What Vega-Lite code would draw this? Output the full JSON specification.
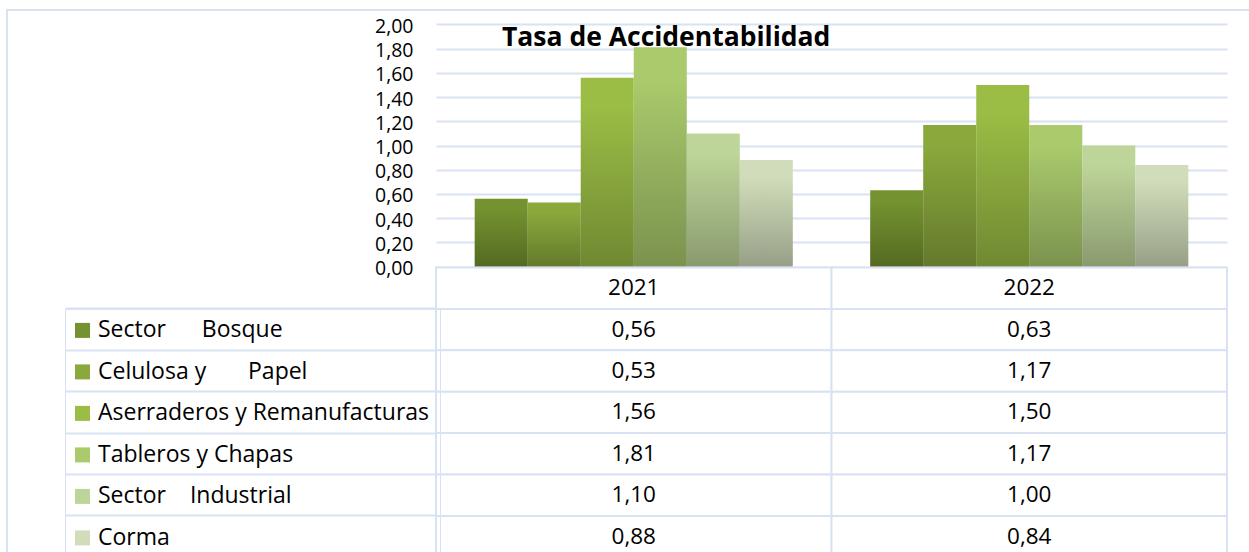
{
  "$schema": "https://vega.github.io/schema/vega-lite/v6.json",
  "width": 1245,
  "height": 546,
  "autosize": "none",
  "padding": {"left": 7, "top": 10, "right": 0, "bottom": 0},
  "data": {
    "values": [
      {"year": "2021", "series": "Sector Bosque", "value": 0.56},
      {"year": "2021", "series": "Celulosa y Papel", "value": 0.53},
      {"year": "2021", "series": "Aserraderos y Remanufacturas", "value": 1.56},
      {"year": "2021", "series": "Tableros y Chapas", "value": 1.81},
      {"year": "2021", "series": "Sector Industrial", "value": 1.10},
      {"year": "2021", "series": "Corma", "value": 0.88},
      {"year": "2022", "series": "Sector Bosque", "value": 0.63},
      {"year": "2022", "series": "Celulosa y Papel", "value": 1.17},
      {"year": "2022", "series": "Aserraderos y Remanufacturas", "value": 1.50},
      {"year": "2022", "series": "Tableros y Chapas", "value": 1.17},
      {"year": "2022", "series": "Sector Industrial", "value": 1.00},
      {"year": "2022", "series": "Corma", "value": 0.84}
    ]
  },
  "title": {
    "text": "Tasa de Accidentabilidad",
    "anchor": "start",
    "frame": "group",
    "offset": -37.5,
    "dx": 495,
    "dy": 25,
    "baseline": "alphabetic",
    "font": "Open Sans",
    "fontSize": 26.5,
    "fontWeight": "bold",
    "color": "#000000"
  },
  "layer": [
    {
      "layer": [
        {
          "mark": {"type": "bar"},
          "encoding": {
            "x": {"field": "year", "type": "nominal", "axis": null, "scale": {"range": [429, 1220], "paddingInner": 0, "paddingOuter": 0}},
            "xOffset": {"field": "series", "type": "nominal", "scale": {"domain": ["Sector Bosque", "Celulosa y Papel", "Aserraderos y Remanufacturas", "Tableros y Chapas", "Sector Industrial", "Corma"], "paddingInner": 0, "paddingOuter": 0.73}},
            "y": {"field": "value", "type": "quantitative", "scale": {"domain": [0, 2], "range": [256.7, 14.3], "nice": false, "zero": true},
              "axis": {"orient": "left", "offset": -429, "values": [0, 0.2, 0.4, 0.6, 0.8, 1.0, 1.2, 1.4, 1.6, 1.8, 2.0], "format": ".2f", "domain": false, "ticks": false, "tickSize": 0, "labelPadding": 23, "labelFont": "Open Sans", "labelFontSize": 19.5, "labelColor": "#000000", "labelOffset": 2, "grid": true, "gridColor": "#d9e2f3", "gridWidth": 2, "title": null}},
            "color": {"field": "series", "type": "nominal",
              "scale": {"domain": ["Sector Bosque", "Celulosa y Papel", "Aserraderos y Remanufacturas", "Tableros y Chapas", "Sector Industrial", "Corma"],
                        "range": ["#74922f", "#8aa83c", "#9bbd45", "#aaca6c", "#bed599", "#d1ddba"]},
              "legend": {
                "orient": "none", "legendX": 58, "legendY": 298.9, "title": null,
                "symbolType": "square", "symbolSize": 225, "symbolStrokeWidth": 0, "symbolOpacity": 1, "symbolOffset": -4,
                "labelFont": "Open Sans", "labelFontSize": 23, "labelColor": "#000000", "labelOffset": 4, "labelLimit": 600,
                "rowPadding": 17.5, "padding": 10, "strokeColor": "#d9e2f3",
                "labelExpr": "datum.label == 'Sector Bosque' ? 'Sector\u00a0\u00a0\u00a0\u00a0\u00a0\u00a0Bosque' : datum.label == 'Celulosa y Papel' ? 'Celulosa y\u00a0\u00a0\u00a0\u00a0\u00a0\u00a0\u00a0Papel' : datum.label == 'Sector Industrial' ? 'Sector\u00a0\u00a0\u00a0\u00a0Industrial' : datum.label"
              }
            }
          }
        },
        {
          "mark": {"type": "bar", "fill": {"gradient": "linear", "x1": 0, "y1": 0, "x2": 0, "y2": 1,
            "stops": [{"offset": 0, "color": "rgba(0,0,0,0)"}, {"offset": 0.15, "color": "rgba(0,0,0,0)"}, {"offset": 1, "color": "rgba(0,0,0,0.28)"}]}},
          "encoding": {
            "x": {"field": "year", "type": "nominal", "axis": null, "scale": {"range": [429, 1220], "paddingInner": 0, "paddingOuter": 0}},
            "xOffset": {"field": "series", "type": "nominal", "scale": {"domain": ["Sector Bosque", "Celulosa y Papel", "Aserraderos y Remanufacturas", "Tableros y Chapas", "Sector Industrial", "Corma"], "paddingInner": 0, "paddingOuter": 0.73}},
            "y": {"field": "value", "type": "quantitative", "scale": {"domain": [0, 2], "range": [256.7, 14.3], "nice": false, "zero": true},
              "axis": {"orient": "left", "offset": -429, "values": [0, 0.2, 0.4, 0.6, 0.8, 1.0, 1.2, 1.4, 1.6, 1.8, 2.0], "format": ".2f", "domain": false, "ticks": false, "tickSize": 0, "labelPadding": 23, "labelFont": "Open Sans", "labelFontSize": 19.5, "labelColor": "#000000", "labelOffset": 2, "grid": true, "gridColor": "#d9e2f3", "gridWidth": 2, "title": null}}
          }
        }
      ]
    },
    {
      "layer": [
        {
          "mark": {"type": "rect", "fill": "#ffffff", "stroke": "#d9e2f3", "strokeWidth": 2},
          "encoding": {
            "x": {"field": "year", "type": "nominal", "axis": null, "scale": {"range": [429, 1220], "paddingInner": 0, "paddingOuter": 0}},
            "y": {"field": "series", "type": "nominal",
              "scale": {"domain": ["header", "Sector Bosque", "Celulosa y Papel", "Aserraderos y Remanufacturas", "Tableros y Chapas", "Sector Industrial", "Corma"], "range": [257.5, 547.3], "paddingInner": 0, "paddingOuter": 0},
              "axis": {"orient": "left", "offset": -429, "values": ["Sector Bosque", "Celulosa y Papel", "Aserraderos y Remanufacturas", "Tableros y Chapas", "Sector Industrial", "Corma"], "bandPosition": 0, "domain": false, "labels": false, "grid": false, "ticks": true, "tickSize": 371, "tickColor": "#d9e2f3", "tickWidth": 2, "title": null}}
          }
        },
        {
          "transform": [{"filter": "datum.series == 'Corma'"}],
          "mark": {"type": "rect", "fill": "#ffffff", "stroke": "#d9e2f3", "strokeWidth": 2},
          "encoding": {
            "x": {"field": "year", "type": "nominal", "axis": null, "scale": {"range": [429, 1220], "paddingInner": 0, "paddingOuter": 0}},
            "y": {"datum": "header", "type": "nominal",
              "axis": {"orient": "left", "offset": -429, "values": ["Sector Bosque", "Celulosa y Papel", "Aserraderos y Remanufacturas", "Tableros y Chapas", "Sector Industrial", "Corma"], "bandPosition": 0, "domain": false, "labels": false, "grid": false, "ticks": true, "tickSize": 371, "tickColor": "#d9e2f3", "tickWidth": 2, "title": null}}
          }
        },
        {
          "transform": [{"filter": "datum.series == 'Corma'"}],
          "mark": {"type": "text", "font": "Open Sans", "fontSize": 22.5, "color": "#000000", "align": "center", "baseline": "middle"},
          "encoding": {
            "x": {"field": "year", "type": "nominal", "axis": null, "scale": {"range": [429, 1220], "paddingInner": 0, "paddingOuter": 0}},
            "y": {"datum": "header", "type": "nominal",
              "axis": {"orient": "left", "offset": -429, "values": ["Sector Bosque", "Celulosa y Papel", "Aserraderos y Remanufacturas", "Tableros y Chapas", "Sector Industrial", "Corma"], "bandPosition": 0, "domain": false, "labels": false, "grid": false, "ticks": true, "tickSize": 371, "tickColor": "#d9e2f3", "tickWidth": 2, "title": null}},
            "text": {"field": "year"}
          }
        },
        {
          "mark": {"type": "text", "font": "Open Sans", "fontSize": 22.5, "color": "#000000", "align": "center", "baseline": "middle"},
          "encoding": {
            "x": {"field": "year", "type": "nominal", "axis": null, "scale": {"range": [429, 1220], "paddingInner": 0, "paddingOuter": 0}},
            "y": {"field": "series", "type": "nominal",
              "axis": {"orient": "left", "offset": -429, "values": ["Sector Bosque", "Celulosa y Papel", "Aserraderos y Remanufacturas", "Tableros y Chapas", "Sector Industrial", "Corma"], "bandPosition": 0, "domain": false, "labels": false, "grid": false, "ticks": true, "tickSize": 371, "tickColor": "#d9e2f3", "tickWidth": 2, "title": null}},
            "text": {"field": "value", "type": "quantitative", "format": ".2f"}
          }
        }
      ]
    }
  ],
  "resolve": {"scale": {"y": "independent"}},
  "config": {
    "view": {"stroke": "#d9e2f3", "strokeWidth": 2},
    "font": "Open Sans",
    "locale": {"number": {"decimal": ",", "thousands": ".", "grouping": [3], "currency": ["", ""]}}
  }
}
